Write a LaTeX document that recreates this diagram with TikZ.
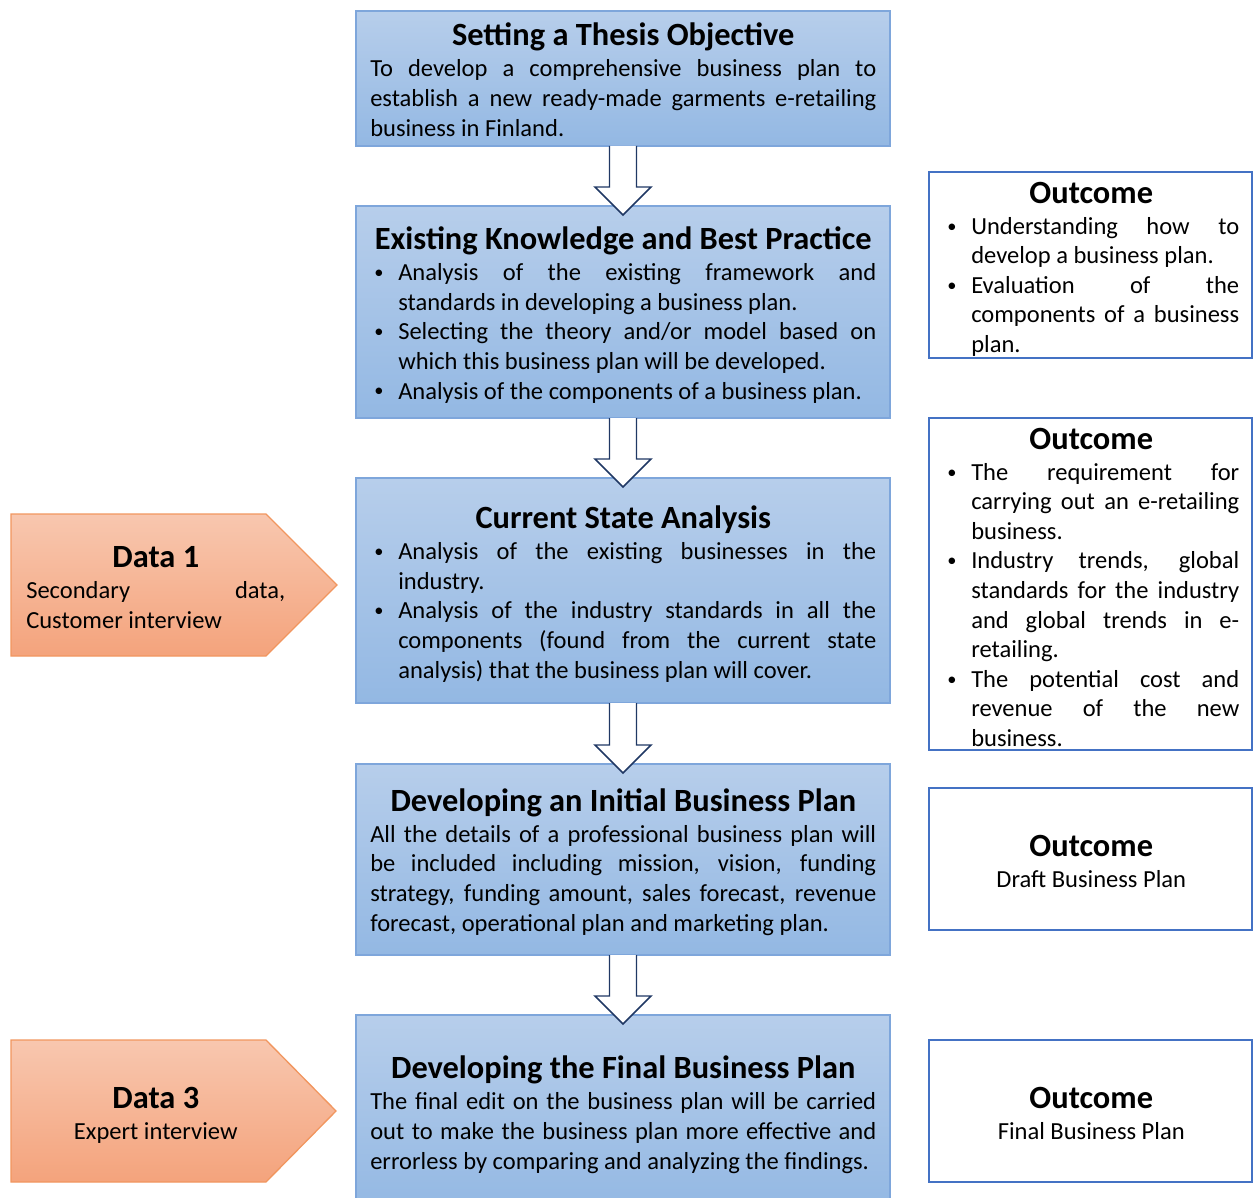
\documentclass[tikz,border=0pt]{standalone}
\usepackage{fontspec}
\setmainfont{Carlito}
\usetikzlibrary{calc}
\definecolor{bluetop}{RGB}{183,206,235}
\definecolor{bluebot}{RGB}{147,184,227}
\definecolor{blueline}{RGB}{126,166,219}
\definecolor{orgtop}{RGB}{248,199,175}
\definecolor{orgbot}{RGB}{244,163,124}
\definecolor{orgline}{RGB}{241,150,95}
\definecolor{outline}{RGB}{68,114,196}
\definecolor{arrline}{RGB}{32,56,100}
\newcommand\bodyfont{\fontsize{18.4pt}{22.2pt}\selectfont}
\newcommand\ttlfont{\fontsize{24.3pt}{26pt}\selectfont\bfseries}
\newcommand\TT[1]{\spaceskip=0pt\xspaceskip=0pt\noindent\makebox[\hsize][c]{\ttlfont #1}}
\newcommand\JL[1]{\makebox[\hsize][s]{#1}}
\newcommand\mybullet{\makebox[21pt][l]{\hspace{3pt}\raisebox{1.6pt}{\scalebox{0.75}{\textbullet}}}}
\newcommand\BJ[1]{\mybullet\makebox[\dimexpr\hsize-21pt\relax][s]{#1}}
\newcommand\BL[1]{\mybullet#1}
\newcommand\CJ[1]{\hspace*{21pt}\makebox[\dimexpr\hsize-21pt\relax][s]{#1}}
\newcommand\CL[1]{\hspace*{21pt}#1}
\newcommand\blockarrow[2]{%
 \draw[barrow] ($(#1.south)+(-13.5,0)$) -- ($(#2.north)+(-13.5,-19)$) -- ($(#2.north)+(-28,-19)$) -- ($(#2.north)+(0,9)$) -- ($(#2.north)+(28,-19)$) -- ($(#2.north)+(13.5,-19)$) -- ($(#1.south)+(13.5,0)$);}
\tikzset{
 bluebox/.style={draw=blueline, line width=1pt, top color=bluetop, bottom color=bluebot,
   minimum width=400.5pt, inner sep=0pt, outer sep=0pt},
 outbox/.style={draw=outline, line width=1.2pt, fill=white,
   minimum width=242.25pt, inner sep=0pt, outer sep=0pt},
 btext/.style={anchor=base west, text width=379.5pt, inner sep=0pt, align=left, font=\bodyfont},
 otext/.style={anchor=base west, text width=222pt, inner sep=0pt, align=left, font=\bodyfont},
 datashape/.style={draw=orgline, line width=1pt, top color=orgtop, bottom color=orgbot},
 datatext/.style={anchor=base west, text width=194.25pt, inner sep=0pt, align=left, font=\bodyfont},
 barrow/.style={draw=arrline, fill=white, line width=1.1pt, line join=miter}
}
\begin{document}
\begin{tikzpicture}[x=0.75pt,y=-0.75pt]
\useasboundingbox (0,0) rectangle (1253,1198);
% blue boxes
\node[bluebox, minimum height=101.25pt] (b1) at (623,78.5) {};
\node[bluebox, minimum height=159pt] (b2) at (623,312) {};
\node[bluebox, minimum height=168.75pt] (b3) at (623,590.5) {};
\node[bluebox, minimum height=143.25pt] (b4) at (623,859.5) {};
\node[bluebox, minimum height=147pt] (b5) at (623,1113) {};
\node[btext] (b1t) at (370,45.8) {\TT{Setting a Thesis Objective}\\[1.1pt]
\JL{To develop a comprehensive business plan to}\\
\JL{establish a new ready-made garments e-retailing}\\
business in Finland.};
\node[btext] (b2t) at (370,249.6) {\TT{Existing Knowledge and Best Practice}\\[1.1pt]
\BJ{Analysis of the existing framework and}\\
\CL{standards in developing a business plan.}\\
\BJ{Selecting the theory and/or model based on}\\
\CL{which this business plan will be developed.}\\
\BL{Analysis of the components of a business plan.}};
\node[btext] (b3t) at (370,528.6) {\TT{Current State Analysis}\\[1.1pt]
\BJ{Analysis of the existing businesses in the}\\
\CL{industry.}\\
\BJ{Analysis of the industry standards in all the}\\
\CJ{components (found from the current state}\\
\CL{analysis) that the business plan will cover.}};
\node[btext] (b4t) at (370,811.2) {\TT{Developing an Initial Business Plan}\\[1.1pt]
\JL{All the details of a professional business plan will}\\
\JL{be included including mission, vision, funding}\\
\JL{strategy, funding amount, sales forecast, revenue}\\
forecast, operational plan and marketing plan.};
\node[btext] (b5t) at (370,1078.8) {\TT{Developing the Final Business Plan}\\[1.1pt]
\JL{The final edit on the business plan will be carried}\\
\JL{out to make the business plan more effective and}\\
errorless by comparing and analyzing the findings.};
% block arrows
\blockarrow{b1}{b2}
\blockarrow{b2}{b3}
\blockarrow{b3}{b4}
\blockarrow{b4}{b5}
% outcome boxes
\node[outbox, minimum height=139.5pt] (o1) at (1090.5,265) {};
\node[outbox, minimum height=249pt] (o2) at (1090.5,584) {};
\node[outbox, minimum height=106.5pt] (o3) at (1090.5,859) {};
\node[outbox, minimum height=106.5pt] (o4) at (1090.5,1111) {};
\node[otext] (o1t) at (943,203.1) {\TT{Outcome}\\[1.1pt]
\BJ{Understanding how to}\\
\CL{develop a business plan.}\\
\BJ{Evaluation of the}\\
\CJ{components of a business}\\
\CL{plan.}};
\node[otext] (o2t) at (943,449.1) {\TT{Outcome}\\[1.1pt]
\BJ{The requirement for}\\
\CJ{carrying out an e-retailing}\\
\CL{business.}\\
\BJ{Industry trends, global}\\
\CJ{standards for the industry}\\
\CJ{and global trends in e-}\\
\CL{retailing.}\\
\BJ{The potential cost and}\\
\CJ{revenue of the new}\\
\CL{business.}};
\node[otext] (o3t) at (943,856.5) {\TT{Outcome}\\[1.1pt]
\makebox[\hsize][c]{Draft Business Plan}};
\node[otext] (o4t) at (943,1108) {\TT{Outcome}\\[1.1pt]
\makebox[\hsize][c]{Final Business Plan}};
% data shapes
\path[datashape] (11,514) -- (266,514) -- (337,585) -- (266,656) -- (11,656) -- cycle;
\node[datatext] (d1) at (26,567.9) {\TT{Data 1}\\[1.1pt]
\JL{Secondary data,}\\
Customer interview};
\path[datashape] (11,1040) -- (266,1040) -- (336,1111) -- (266,1182) -- (11,1182) -- cycle;
\node[datatext] (d3) at (26,1108) {\TT{Data 3}\\[1.1pt]
\makebox[\hsize][c]{Expert interview}};
\end{tikzpicture}
\end{document}
